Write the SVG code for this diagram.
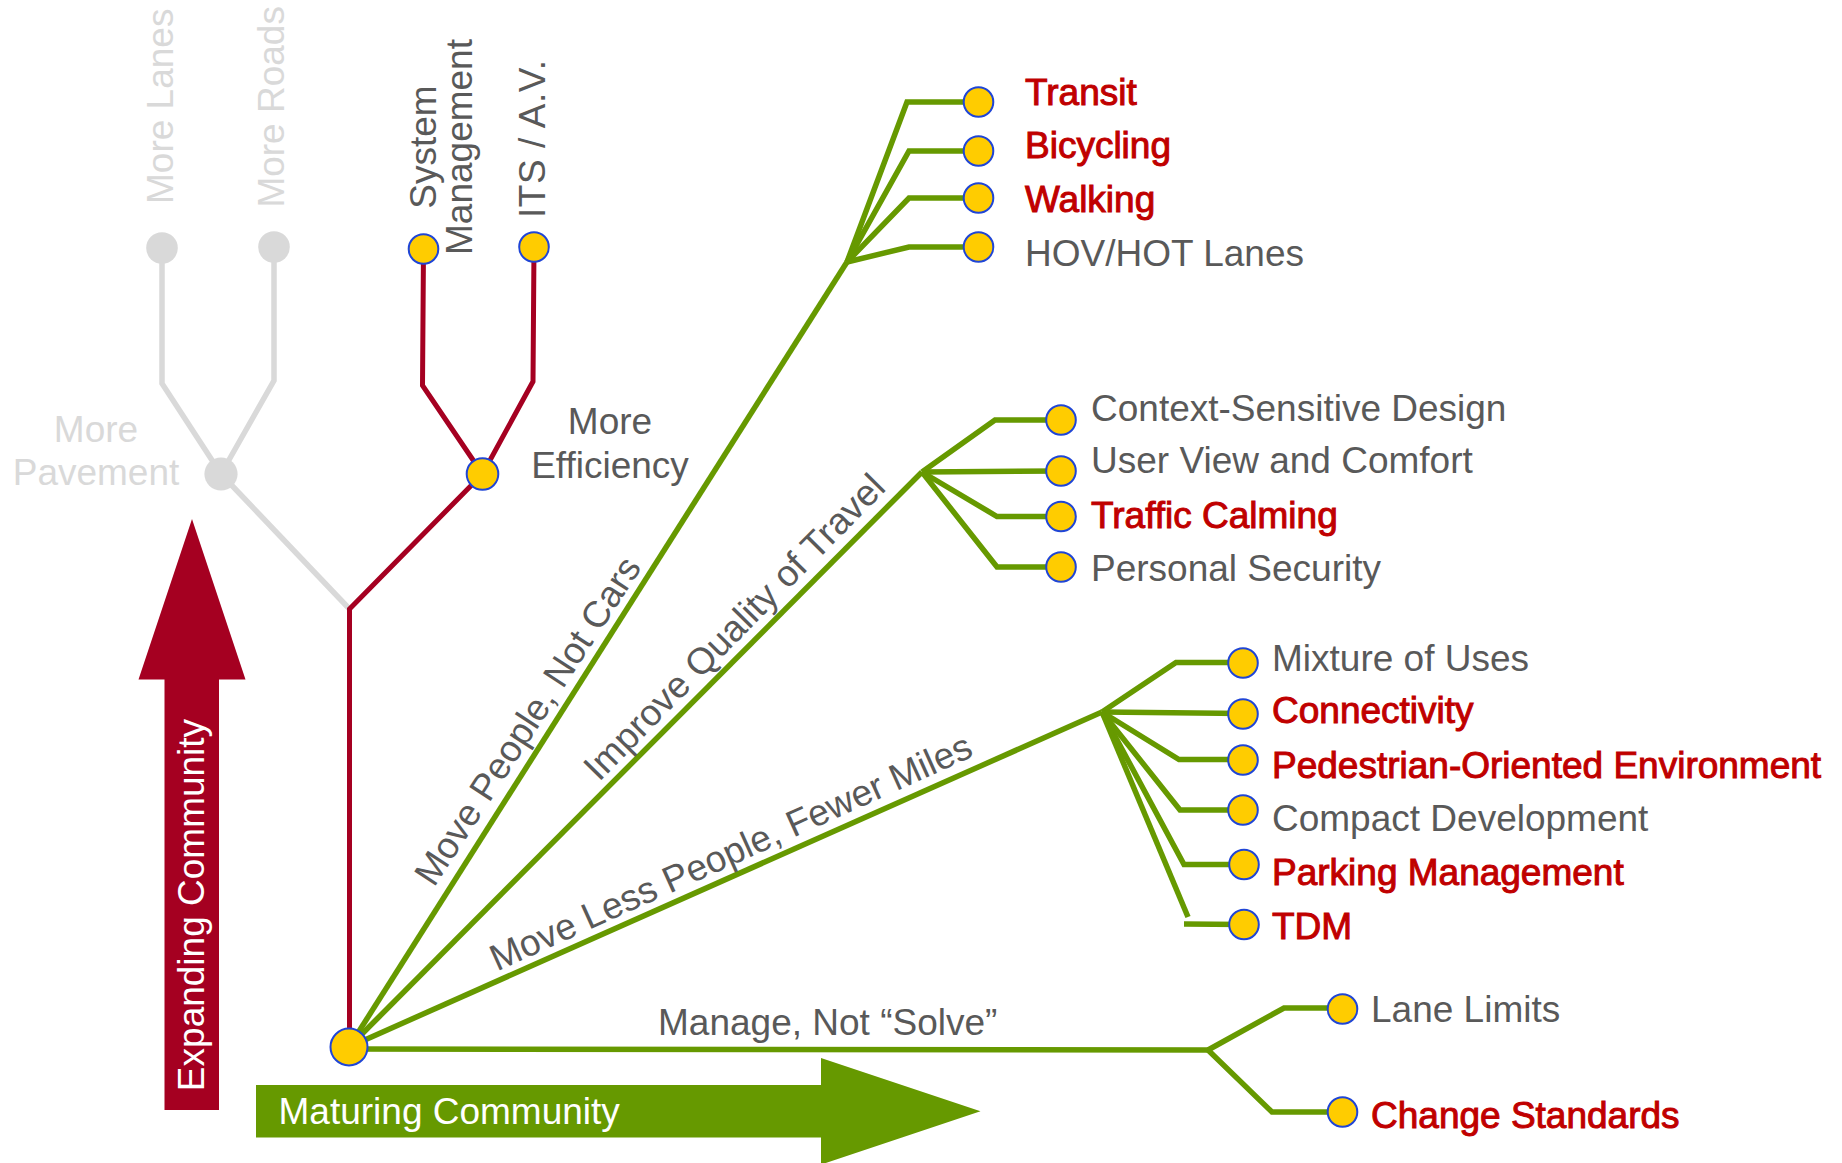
<svg xmlns="http://www.w3.org/2000/svg" width="1842" height="1163" viewBox="0 0 1842 1163">
<style>
text{font-family:"Liberation Sans",Arial,Helvetica,sans-serif;font-size:37px}
.g{fill:#595959}
.lg{fill:#D9D9D9}
.r{fill:#C00000;stroke:#C00000;stroke-width:1}
.w{fill:#FFFFFF}
.gl{fill:none;stroke:#669900;stroke-width:5.5;stroke-linejoin:miter}
.rl{fill:none;stroke:#A50021;stroke-width:5;stroke-linejoin:miter}
.ll{fill:none;stroke:#D9D9D9;stroke-width:5.5;stroke-linejoin:miter}
.dot{fill:#FFCC00;stroke:#1F45D6;stroke-width:2}
.gdot{fill:#D9D9D9}
</style>
<rect width="1842" height="1163" fill="#FFFFFF"/>

<g id="arrows">
  <polygon points="164.5,1110 164.5,679.5 138.5,679.5 192,519 245.5,679.5 219,679.5 219,1110" fill="#A50021"/>
  <text class="w" transform="translate(204,905) rotate(-90)" text-anchor="middle">Expanding Community</text>
  <polygon points="256,1085 821,1085 821,1058 980.5,1111.3 821,1164.6 821,1137.5 256,1137.5" fill="#669900"/>
  <text class="w" x="278.5" y="1123.5">Maturing Community</text>
</g>

<g id="connectors">
  <polyline class="ll" points="162,248 162,383.5 221,474"/>
  <polyline class="ll" points="274,247 274,380.5 221,474"/>
  <line class="ll" x1="221" y1="474" x2="349.5" y2="609"/>
  <polyline class="rl" points="423.5,249 422.5,385.5 482.5,474"/>
  <polyline class="rl" points="534,247 533,381.5 482.5,474"/>
  <polyline class="rl" points="482.5,474 349.5,609 349.5,1047"/>

  <line class="gl" x1="349" y1="1047" x2="847" y2="262"/>
  <line class="gl" x1="349" y1="1047" x2="922" y2="472"/>
  <line class="gl" x1="349" y1="1047" x2="1102" y2="712"/>
  <line class="gl" x1="349" y1="1049" x2="1208" y2="1050"/>

  <polyline class="gl" points="847,262 907,102 978,102"/>
  <polyline class="gl" points="847,262 909,151 978,151"/>
  <polyline class="gl" points="847,262 909,198 978,198"/>
  <polyline class="gl" points="847,262 909,247 978,247"/>

  <polyline class="gl" points="922,472 995,420 1061,420"/>
  <polyline class="gl" points="922,472 1061,471"/>
  <polyline class="gl" points="922,472 997,516.5 1061,516.5"/>
  <polyline class="gl" points="922,472 997,567 1061,567"/>

  <polyline class="gl" points="1102,712 1176,662.5 1243,662.5"/>
  <polyline class="gl" points="1102,712 1243,713.5"/>
  <polyline class="gl" points="1102,712 1179,759.5 1243,759.5"/>
  <polyline class="gl" points="1102,712 1180,810 1243,810"/>
  <polyline class="gl" points="1102,712 1184,864.5 1244,864.5"/>
  <line class="gl" x1="1102" y1="712" x2="1188" y2="917"/>
  <line class="gl" x1="1184" y1="924" x2="1244" y2="924.5"/>

  <polyline class="gl" points="1208,1050 1284,1008 1342,1008"/>
  <polyline class="gl" points="1208,1050 1272,1112 1342,1112"/>

  <text class="g" transform="translate(434,888) rotate(-57)">Move People, Not Cars</text>
  <text class="g" transform="translate(599,782.5) rotate(-45.5)">Improve Quality of Travel</text>
  <text class="g" transform="translate(497,971.5) rotate(-24.3)">Move Less People, Fewer Miles</text>
  <text class="g" x="658" y="1035">Manage, Not “Solve”</text>
</g>

<g id="more-lanes"><circle class="gdot" cx="162" cy="248" r="15.8"/><text class="lg" transform="translate(172.5,204) rotate(-90)">More Lanes</text></g>
<g id="more-roads"><circle class="gdot" cx="274" cy="247" r="15.8"/><text class="lg" transform="translate(283.5,207.6) rotate(-90)">More Roads</text></g>
<g id="more-pavement"><circle class="gdot" cx="221" cy="474" r="16.6"/><text class="lg" x="96" y="441.7" text-anchor="middle">More</text><text class="lg" x="96" y="485" text-anchor="middle">Pavement</text></g>

<g id="system-management"><circle class="dot" cx="423.5" cy="249" r="14.8"/><text class="g" transform="translate(436,147) rotate(-90)" text-anchor="middle">System</text><text class="g" transform="translate(472,147) rotate(-90)" text-anchor="middle">Management</text></g>
<g id="its-av"><circle class="dot" cx="534" cy="247" r="14.8"/><text class="g" transform="translate(544.5,218) rotate(-90)" textLength="158" lengthAdjust="spacing">ITS / A.V.</text></g>
<g id="more-efficiency"><circle class="dot" cx="482.5" cy="474" r="15.8"/><text class="g" x="610" y="434" text-anchor="middle">More</text><text class="g" x="610" y="478" text-anchor="middle">Efficiency</text></g>

<g id="root"><circle class="dot" cx="349" cy="1047" r="18.5"/></g>

<g id="transit"><circle class="dot" cx="978.5" cy="102" r="14.8"/><text class="r" x="1025" y="105">Transit</text></g>
<g id="bicycling"><circle class="dot" cx="978.5" cy="151" r="14.8"/><text class="r" x="1025" y="158">Bicycling</text></g>
<g id="walking"><circle class="dot" cx="978.5" cy="198" r="14.8"/><text class="r" x="1025" y="212">Walking</text></g>
<g id="hov-hot"><circle class="dot" cx="978.5" cy="247" r="14.8"/><text class="g" x="1025" y="266">HOV/HOT Lanes</text></g>

<g id="context-sensitive"><circle class="dot" cx="1061" cy="420" r="14.8"/><text class="g" x="1091" y="421">Context-Sensitive Design</text></g>
<g id="user-view"><circle class="dot" cx="1061" cy="471" r="14.8"/><text class="g" x="1091" y="473">User View and Comfort</text></g>
<g id="traffic-calming"><circle class="dot" cx="1061" cy="516.5" r="14.8"/><text class="r" x="1091" y="528">Traffic Calming</text></g>
<g id="personal-security"><circle class="dot" cx="1061" cy="567" r="14.8"/><text class="g" x="1091" y="581">Personal Security</text></g>

<g id="mixture"><circle class="dot" cx="1243" cy="663" r="14.8"/><text class="g" x="1272" y="671">Mixture of Uses</text></g>
<g id="connectivity"><circle class="dot" cx="1243" cy="714" r="14.8"/><text class="r" x="1272" y="723">Connectivity</text></g>
<g id="pedestrian"><circle class="dot" cx="1243" cy="760" r="14.8"/><text class="r" x="1272" y="778">Pedestrian-Oriented Environment</text></g>
<g id="compact"><circle class="dot" cx="1243" cy="810" r="14.8"/><text class="g" x="1272" y="831">Compact Development</text></g>
<g id="parking"><circle class="dot" cx="1244" cy="864.5" r="14.8"/><text class="r" x="1272" y="885">Parking Management</text></g>
<g id="tdm"><circle class="dot" cx="1244" cy="924.5" r="14.8"/><text class="r" x="1272" y="939">TDM</text></g>

<g id="lane-limits"><circle class="dot" cx="1342.5" cy="1009" r="14.8"/><text class="g" x="1371" y="1022">Lane Limits</text></g>
<g id="change-standards"><circle class="dot" cx="1342.5" cy="1112" r="14.8"/><text class="r" x="1371" y="1128">Change Standards</text></g>
</svg>
